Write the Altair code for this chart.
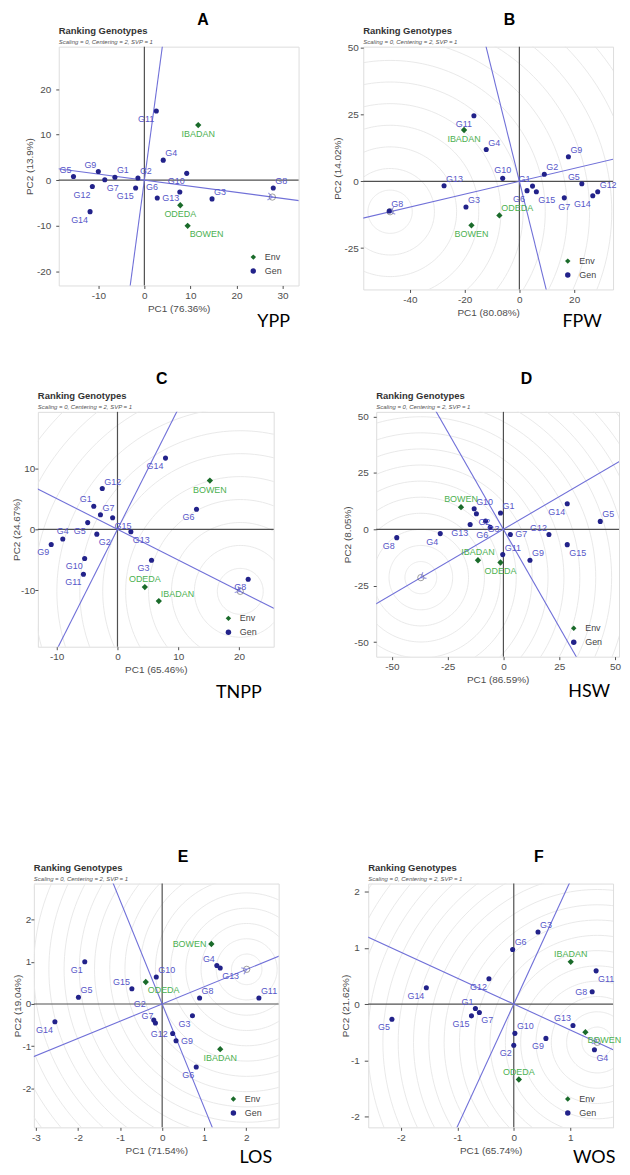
import math
import numpy as np
import pandas as pd
import altair as alt

GEN = [f"G{i}" for i in range(1, 16)]
ENV = ["BOWEN", "IBADAN", "ODEDA"]

# ---------------- Panel A : YPP ----------------
A_GX = [-6.4, -1.4, 14.7, 4.1, -15.4, 7.7, -8.6, 28.0, -10.0, 9.2, 2.6, -11.3, 2.8, -11.8, -1.9]
A_GY = [0.66, 0.5, -4.1, 4.4, 0.8, -2.6, 0.1, -1.7, 1.9, 1.5, 15.2, -1.4, -3.9, -6.9, -1.7]
A_EX = [9.4, 11.7, 7.8]
A_EY = [-10.0, 12.1, -5.5]
A_IDEAL = [27.8, -3.7]
A_XT = [-10, 0, 10, 20, 30]
A_YT = [-20, -10, 0, 10, 20]

# ---------------- Panel B : FPW ----------------
B_GX = [4.8, 9.1, -19.5, -12.1, 22.8, 2.8, 16.4, -47.5, 17.9, -6.1, -16.6, 28.6, -27.5, 26.8, 6.2]
B_GY = [-1.8, 2.6, -9.6, 11.9, -0.9, -3.5, -6.2, -11.1, 9.2, 1.1, 24.5, -3.9, -1.7, -5.4, -3.9]
B_EX = [-17.5, -20.2, -7.3]
B_EY = [-16.5, 19.2, -12.8]
B_IDEAL = [-47.2, -11.4]
B_XT = [-40, -20, 0, 20]
B_YT = [-25, 0, 25, 50]

# ---------------- Panel C : TNPP ----------------
C_GX = [-3.9, -3.4, 5.6, -9.0, -4.9, 13.0, -2.8, 21.5, -10.9, -5.4, -5.6, -2.5, 2.2, 7.9, -0.8]
C_GY = [3.8, -0.8, -5.1, -1.6, 1.1, 3.3, 2.4, -8.2, -2.5, -4.8, -7.4, 6.7, -0.4, 11.7, 1.9]
C_EX = [15.2, 6.8, 4.5]
C_EY = [8.0, -11.8, -9.5]
C_IDEAL = [20.2, -10.2]
C_XT = [-10, 0, 10, 20]
C_YT = [-10, 0, 10]

# ---------------- Panel D : HSW ----------------
D_GX = [-1.3, -12.1, -8.0, -28.3, 43.4, -5.9, 3.1, -47.8, 11.9, -13.1, -0.3, 20.4, -14.9, 28.6, 28.6]
D_GY = [7.2, 6.9, 3.7, -1.9, 3.5, 0.9, -2.3, -3.7, -13.7, 9.1, -11.2, -2.3, 2.1, 11.3, -6.8]
D_EX = [-19.0, -11.4, -1.3]
D_EY = [9.8, -13.7, -14.7]
D_IDEAL = [-37.0, -21.4]
D_XT = [-50, -25, 0, 25, 50]
D_YT = [-50, -25, 0, 25, 50]

# ---------------- Panel E : LOS ----------------
E_GX = [-1.84, -0.2, 0.72, 1.30, -1.99, 0.81, -0.16, 0.89, 0.33, -0.14, 2.30, 0.25, 1.38, -2.55, -0.72]
E_GY = [1.0, -0.38, -0.28, 0.91, 0.16, -1.49, -0.45, 0.14, -0.87, 0.64, 0.14, -0.70, 0.85, -0.42, 0.36]
E_EX = [1.17, 1.38, -0.39]
E_EY = [1.42, -1.07, 0.52]
E_IDEAL = [2.01, 0.82]
E_XT = [-3, -2, -1, 0, 1, 2]
E_YT = [-2, -1, 0, 1, 2]

# ---------------- Panel F : WOS ----------------
F_GX = [-0.68, 0.0, 0.43, 1.43, -2.16, -0.02, -0.61, 1.39, 0.57, 0.02, 1.46, -0.44, 1.05, -1.55, -0.75]
F_GY = [-0.08, -0.73, 1.28, -0.81, -0.27, 0.97, -0.15, 0.22, -0.61, -0.52, 0.59, 0.45, -0.38, 0.29, -0.21]
F_EX = [1.27, 1.01, 0.09]
F_EY = [-0.50, 0.75, -1.34]
F_IDEAL = [1.48, -0.68]
F_XT = [-2, -1, 0, 1]
F_YT = [-2, -1, 0, 1, 2]

# label placement (G1..G15, then BOWEN, IBADAN, ODEDA)
A_POS = ["ne", "ne", "ne", "ne", "nw", "fw", "se", "ne", "nw", "sw", "sw", "sw", "e", "sw", "sw", "se", "s", "s"]
B_POS = ["nw", "ne", "ne", "ne", "nw", "sw", "s", "ne", "ne", "n", "sw", "ne", "ne", "sw", "se", "s", "s", "ne"]
C_POS = ["nw", "se", "sw", "n", "sw", "sw", "ne", "sw", "sw", "sw", "sw", "ne", "se", "sw", "se", "s", "ne", "n"]
D_POS = ["ne", "se", "se", "sw", "ne", "sw", "e", "sw", "ne", "ne", "ne", "nw", "sw", "sw", "se", "n", "n", "s"]
E_POS = ["sw", "fnw", "sw", "nw", "ne", "sw", "nw", "ne", "e", "ne", "ne", "w", "se", "sw", "nw", "w", "s", "se"]
F_POS = ["nw", "sw", "ne", "se", "sw", "ne", "se", "w", "sw", "ne", "se", "sw", "nw", "sw", "sw", "se", "n", "n"]

FONT = "Liberation Sans"
GENPT, GENLAB = "#22228a", "#5656c8"
ENVPT, ENVLAB = "#1a6b2a", "#4cb050"
AEC, ZERO, RING = "#7070d8", "#505050", "#e6e6e6"
AXL = "#4d4d4d"

OFF = {"ne": (2, -7, "left"), "nw": (-2, -7, "right"), "se": (2, 8, "left"), "sw": (-2, 8, "right"),
       "n": (0, -8, "center"), "s": (0, 9, "center"), "e": (5, 0, "left"), "w": (-5, 0, "right"),
       "fnw": (-8, -16, "right"), "fw": (-22, -5, "right")}


def note(text, x, y, size, weight="normal", style="normal", color="#000", align="center",
         baseline="alphabetic", font=FONT):
    return alt.Chart(pd.DataFrame({"t": [text]})).mark_text(
        align=align, baseline=baseline, fontSize=size, fontWeight=weight, fontStyle=style,
        color=color, font=font).encode(x=alt.value(x), y=alt.value(y), text="t:N")


def spacer(w):
    return (alt.Chart(pd.DataFrame({"v": [0]})).mark_rule(opacity=0)
            .encode(x=alt.value(0), x2=alt.value(w), y=alt.value(0))
            .properties(width=w, height=1,
                        view=alt.ViewBackground(fill="transparent", stroke="transparent")))


def panel(letter, trait, gx, gy, ex, ey, ideal, pos, xt, yt, xtitle, ytitle, lay):
    w, h = lay["w"], lay["h"]
    xs = alt.Scale(domain=lay["xdom"], nice=False, zero=False)
    ys = alt.Scale(domain=lay["ydom"], nice=False, zero=False)
    xax = alt.Axis(values=xt, title=xtitle, grid=False, domain=False, tickSize=3, tickColor=ZERO,
                   labelPadding=2, titlePadding=3, labelFontSize=10, labelColor=AXL, titleFontSize=10,
                   titleColor=AXL, titleFontWeight="normal", labelFont=FONT, titleFont=FONT,
                   labelExpr="'' + datum.value")
    yax = alt.Axis(values=yt, title=ytitle, grid=False, domain=False, tickSize=lay["ytick"], tickColor=ZERO,
                   labelPadding=lay["ylp"], titlePadding=lay["ytp"], labelFontSize=10, labelColor=AXL,
                   titleFontSize=10, titleColor=AXL, titleFontWeight="normal", labelFont=FONT,
                   titleFont=FONT, labelExpr="'' + datum.value")
    X = alt.X("x:Q", scale=xs, axis=xax)
    Y = alt.Y("y:Q", scale=ys, axis=yax)
    layers = []

    ix, iy = ideal
    r = math.hypot(ix, iy)
    if lay.get("rings", True):
        step = r / lay.get("ring_div", 6)
        (x0, x1), (y0, y1) = lay["xdom"], lay["ydom"]
        rmax = max(math.hypot(cx - ix, cy - iy) for cx in (x0, x1) for cy in (y0, y1))
        t = np.linspace(0, 2 * math.pi, 181)
        rows = []
        k = 1
        while k * step < rmax:
            for i, tt in enumerate(t):
                rows.append({"x": ix + k * step * math.cos(tt), "y": iy + k * step * math.sin(tt), "k": k, "i": i})
            k += 1
        layers.append(alt.Chart(pd.DataFrame(rows)).mark_line(clip=True, color=RING, strokeWidth=0.9)
                      .encode(x=X, y=Y, detail="k:N", order="i:Q"))

    layers.append(alt.Chart(pd.DataFrame({"x": [0]})).mark_rule(color=ZERO, strokeWidth=1.2).encode(x=X))
    layers.append(alt.Chart(pd.DataFrame({"y": [0]})).mark_rule(color=ZERO, strokeWidth=1.2).encode(y=Y))

    ux, uy = ix / r, iy / r
    L = 1000 * r
    aec = pd.DataFrame({"x": [-L * ux, L * ux, L * uy, -L * uy], "y": [-L * uy, L * uy, -L * ux, L * ux],
                        "ln": ["a", "a", "b", "b"], "i": [0, 1, 0, 1]})
    layers.append(alt.Chart(aec).mark_line(clip=True, color=AEC, strokeWidth=1.1)
                  .encode(x=X, y=Y, detail="ln:N", order="i:Q"))

    kx = w / (lay["xdom"][1] - lay["xdom"][0])
    ky = h / (lay["ydom"][1] - lay["ydom"][0])
    ang = math.degrees(math.atan2(-iy * ky, ix * kx)) % 360
    idf = pd.DataFrame({"x": [ix], "y": [iy]})
    layers.append(alt.Chart(idf).mark_point(shape="circle", filled=False, size=40, color="#555",
                                            strokeWidth=0.8).encode(x=X, y=Y))
    layers.append(alt.Chart(idf).mark_point(shape="M -1 -0.8 L 0 0 L -1 0.8", filled=False, size=80,
                                            color=AEC, strokeWidth=1.2, angle=ang).encode(x=X, y=Y))

    pts = pd.DataFrame({"x": list(gx) + list(ex), "y": list(gy) + list(ey), "name": GEN + ENV,
                        "kind": ["Gen"] * 15 + ["Env"] * 3, "pos": pos})
    leg = alt.Legend(title=None, orient="none", legendX=w - 50, legendY=h - 33, labelFontSize=9,
                     labelColor="#444", labelFont=FONT, symbolSize=30, rowPadding=4, padding=0,
                     symbolStrokeWidth=0, labelOffset=7)
    dom = ["Env", "Gen"]
    layers.append(alt.Chart(pts).mark_point(filled=True, opacity=1, strokeWidth=0).encode(
        x=X, y=Y,
        color=alt.Color("kind:N", scale=alt.Scale(domain=dom, range=[ENVPT, GENPT]), legend=leg),
        shape=alt.Shape("kind:N", scale=alt.Scale(domain=dom, range=["diamond", "circle"]), legend=leg),
        size=alt.condition("datum.kind == 'Env'", alt.value(40), alt.value(26))))

    for d, (dx, dy, al) in OFF.items():
        sub = pts[pts["pos"] == d]
        if len(sub) == 0:
            continue
        layers.append(alt.Chart(sub).mark_text(dx=dx, dy=dy, align=al, baseline="middle", fontSize=9,
                                               font=FONT).encode(
            x=X, y=Y, text="name:N",
            color=alt.condition("datum.kind == 'Gen'", alt.value(GENLAB), alt.value(ENVLAB))))

    lx, ly = lay["letter"]
    layers.append(note(letter, lx, ly, 16, weight="bold"))
    layers.append(note("Ranking Genotypes", 0, -13, 9.5, weight="bold", color="#333", align="left"))
    layers.append(note("Scaling = 0, Centering = 2, SVP = 1", 0, -3, 6, style="italic", color="#555",
                       align="left"))
    tx, ty = lay["trait"]
    layers.append(note(trait, tx, ty, 18, font="Lato"))
    return alt.layer(*layers).properties(width=w, height=h)


LAY = {
    "A": dict(w=241, h=240, xdom=[-18.6, 33.5], ydom=[-23.1, 29.3], letter=(145, -22), trait=(216, 240 + 42),
              ytick=3, ylp=5, ytp=2, rings=False),
    "B": dict(w=251, h=244, xdom=[-57, 34.2], ydom=[-40.5, 50.4], letter=(147, -22), trait=(220, 244 + 38),
              ytick=3, ylp=2, ytp=1),
    "C": dict(w=237, h=236, xdom=[-13.1, 25.7], ydom=[-19.3, 19.3], letter=(124.5, -28), trait=(202, 236 + 52),
              ytick=3, ylp=0, ytp=-1),
    "D": dict(w=244, h=246, xdom=[-57, 51.8], ydom=[-56.4, 52], letter=(151, -28), trait=(214, 246 + 41),
              ytick=3, ylp=5, ytp=1),
    "E": dict(w=246, h=245, xdom=[-3.05, 2.77], ydom=[-2.92, 2.85], letter=(150, -22), trait=(223, 245 + 36),
              ytick=3, ylp=0, ytp=0),
    "F": dict(w=246, h=245, xdom=[-2.58, 1.76], ydom=[-2.19, 2.14], letter=(171.5, -22), trait=(227, 245 + 36),
              ytick=4, ylp=5, ytp=0),
}

pA = panel("A", "YPP", A_GX, A_GY, A_EX, A_EY, A_IDEAL, A_POS, A_XT, A_YT, "PC1 (76.36%)", "PC2 (13.9%)", LAY["A"])
pB = panel("B", "FPW", B_GX, B_GY, B_EX, B_EY, B_IDEAL, B_POS, B_XT, B_YT, "PC1 (80.08%)", "PC2 (14.02%)", LAY["B"])
pC = panel("C", "TNPP", C_GX, C_GY, C_EX, C_EY, C_IDEAL, C_POS, C_XT, C_YT, "PC1 (65.46%)", "PC2 (24.67%)", LAY["C"])
pD = panel("D", "HSW", D_GX, D_GY, D_EX, D_EY, D_IDEAL, D_POS, D_XT, D_YT, "PC1 (86.59%)", "PC2 (8.05%)", LAY["D"])
pE = panel("E", "LOS", E_GX, E_GY, E_EX, E_EY, E_IDEAL, E_POS, E_XT, E_YT, "PC1 (71.54%)", "PC2 (19.04%)", LAY["E"])
pF = panel("F", "WOS", F_GX, F_GY, F_EX, F_EY, F_IDEAL, F_POS, F_XT, F_YT, "PC1 (65.74%)", "PC2 (21.62%)", LAY["F"])

IND = dict(color="independent", shape="independent")


def row(lead, p1, p2, gap):
    inner = alt.hconcat(spacer(lead), p1, spacing=0).resolve_scale(**IND)
    return alt.hconcat(inner, p2, spacing=gap).resolve_scale(**IND)


row1 = row(14.5, pA, pB, 32)
row2 = row(1, pC, pD, 67)
row3 = row(1, pE, pF, 59)
top = alt.vconcat(row1, row2, spacing=38).resolve_scale(**IND)
chart = (alt.vconcat(top, row3, spacing=145).resolve_scale(**IND)
         .properties(padding=0, background="white")
         .configure_view(fill="#fbfbfb", stroke="#3f3f3f", strokeWidth=1.4)
         .configure(font=FONT))

chart.save("out.html", embed_options={"renderer": "svg", "actions": False})
